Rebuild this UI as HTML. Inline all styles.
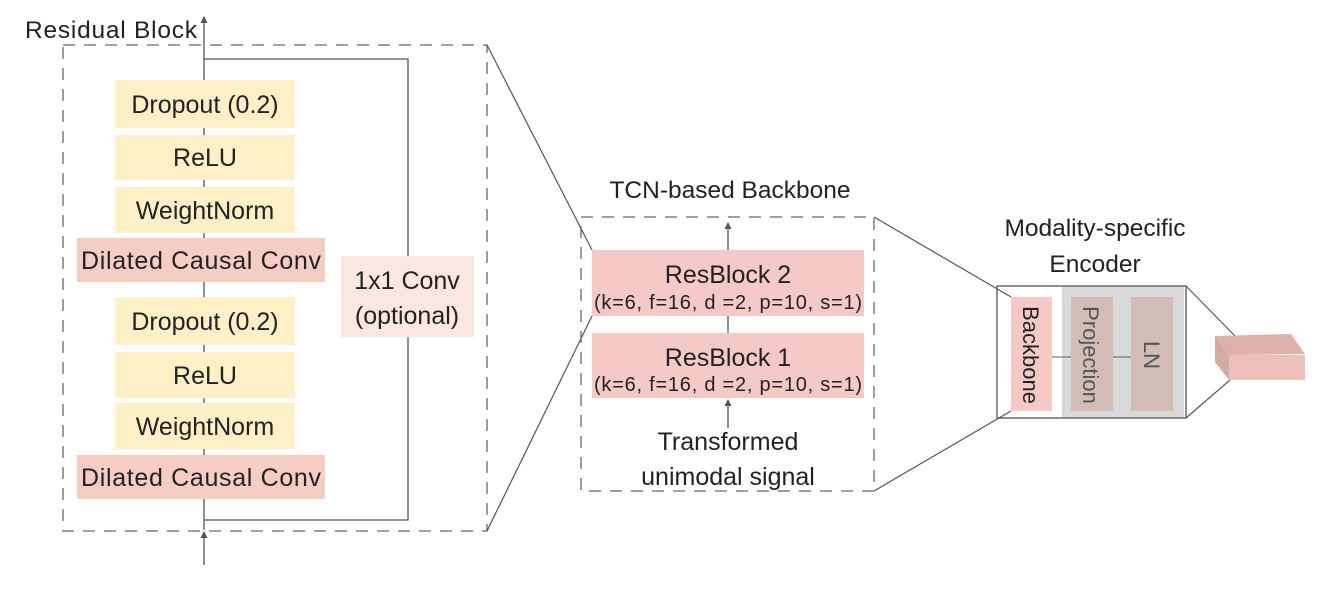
<!DOCTYPE html>
<html><head><meta charset="utf-8"><style>
body{margin:0;background:#fff}
svg{display:block}
text{font-family:"Liberation Sans",sans-serif;fill:#222}
</style></head><body>
<svg width="1334" height="590" viewBox="0 0 1334 590">
<defs><marker id="a" markerWidth="10" markerHeight="10" refX="6" refY="5" orient="auto" markerUnits="userSpaceOnUse"><path d="M0,1.5 L7,5 L0,8.5 Z" fill="#555"/></marker></defs>
<!-- Residual block -->
<text x="25" y="38" font-size="24.5" textLength="172">Residual Block</text>
<rect x="63" y="45" width="424" height="486" fill="none" stroke="#666" stroke-width="1.3" stroke-dasharray="12,9"/>
<line x1="204" y1="530" x2="204" y2="17" stroke="#555" stroke-width="1.3" marker-end="url(#a)"/>
<line x1="204" y1="565" x2="204" y2="532" stroke="#555" stroke-width="1.3" marker-end="url(#a)"/>
<polyline points="204,59 408,59 408,520 204,520" fill="none" stroke="#555" stroke-width="1.3"/>
<g font-size="25" text-anchor="middle">
<rect x="115" y="80" width="180" height="48" fill="#fdefc6"/><text x="205" y="113">Dropout (0.2)</text>
<rect x="115" y="135" width="180" height="45" fill="#fdefc6"/><text x="205" y="166">ReLU</text>
<rect x="115" y="187" width="180" height="46" fill="#fdefc6"/><text x="205" y="219">WeightNorm</text>
<rect x="77" y="238" width="248" height="44" fill="#f5cdc4"/><text x="201" y="269" textLength="240">Dilated Causal Conv</text>
<rect x="115" y="297" width="180" height="48" fill="#fdefc6"/><text x="205" y="330">Dropout (0.2)</text>
<rect x="115" y="352" width="180" height="46" fill="#fdefc6"/><text x="205" y="384">ReLU</text>
<rect x="115" y="403" width="180" height="46" fill="#fdefc6"/><text x="205" y="435">WeightNorm</text>
<rect x="77" y="455" width="248" height="44" fill="#f5cdc4"/><text x="201" y="486" textLength="240">Dilated Causal Conv</text>
<rect x="341" y="256" width="133" height="81" fill="#fbe7e1"/><text x="407" y="289">1x1 Conv</text><text x="407" y="324">(optional)</text>
</g>
<line x1="487" y1="45" x2="592" y2="250" stroke="#555" stroke-width="1.2"/>
<line x1="487" y1="531" x2="592" y2="316" stroke="#555" stroke-width="1.2"/>
<!-- TCN -->
<text x="730" y="198" font-size="24.5" text-anchor="middle">TCN-based Backbone</text>
<rect x="581" y="217" width="293" height="274" fill="none" stroke="#666" stroke-width="1.3" stroke-dasharray="12,9"/>
<line x1="728" y1="250" x2="728" y2="223" stroke="#555" stroke-width="1.3" marker-end="url(#a)"/>
<line x1="728" y1="333" x2="728" y2="316" stroke="#555" stroke-width="1.3"/>
<line x1="728" y1="428" x2="728" y2="400" stroke="#555" stroke-width="1.3" marker-end="url(#a)"/>
<rect x="592" y="250" width="272" height="66" fill="#f5cac6"/>
<rect x="592" y="333" width="272" height="65" fill="#f5cac6"/>
<g text-anchor="middle">
<text x="728" y="283" font-size="25">ResBlock 2</text><text x="728" y="309" font-size="20" textLength="268">(k=6, f=16, d =2, p=10, s=1)</text>
<text x="728" y="366" font-size="25">ResBlock 1</text><text x="728" y="391" font-size="20" textLength="268">(k=6, f=16, d =2, p=10, s=1)</text>
<text x="728" y="450" font-size="25">Transformed</text><text x="728" y="485" font-size="25">unimodal signal</text>
</g>
<line x1="874" y1="217" x2="1011" y2="297" stroke="#555" stroke-width="1.2"/>
<line x1="874" y1="491" x2="1011" y2="411" stroke="#555" stroke-width="1.2"/>
<!-- Encoder -->
<g text-anchor="middle" font-size="24.5"><text x="1095" y="236">Modality-specific</text><text x="1095" y="272">Encoder</text></g>
<rect x="1062" y="286" width="122" height="132" fill="#d9d9d9"/>
<rect x="997" y="286" width="189" height="132" fill="none" stroke="#555" stroke-width="1.3"/>
<line x1="1052" y1="357" x2="1131" y2="357" stroke="#777" stroke-width="1.3"/>
<rect x="1011" y="297" width="41" height="114" fill="#f5cac6"/>
<rect x="1071" y="297" width="42" height="114" fill="#d2bcb6"/>
<rect x="1131" y="297" width="42" height="114" fill="#d2bcb6"/>
<text transform="translate(1023,355) rotate(90)" font-size="22" text-anchor="middle">Backbone</text>
<text transform="translate(1083,355) rotate(90)" font-size="22" text-anchor="middle" style="fill:#555">Projection</text>
<text transform="translate(1144,355) rotate(90)" font-size="22" text-anchor="middle" style="fill:#555">LN</text>
<line x1="1186" y1="286" x2="1235" y2="336" stroke="#555" stroke-width="1.2"/>
<line x1="1186" y1="418" x2="1230" y2="380" stroke="#555" stroke-width="1.2"/>
<polygon points="1215,336 1291,334 1305,354 1229,355" fill="#dcb1aa"/>
<polygon points="1215,336 1229,355 1229,380 1215,362" fill="#d3aaa4"/>
<rect x="1229" y="355" width="76" height="25" fill="#ebc0ba"/>
</svg>
</body></html>
